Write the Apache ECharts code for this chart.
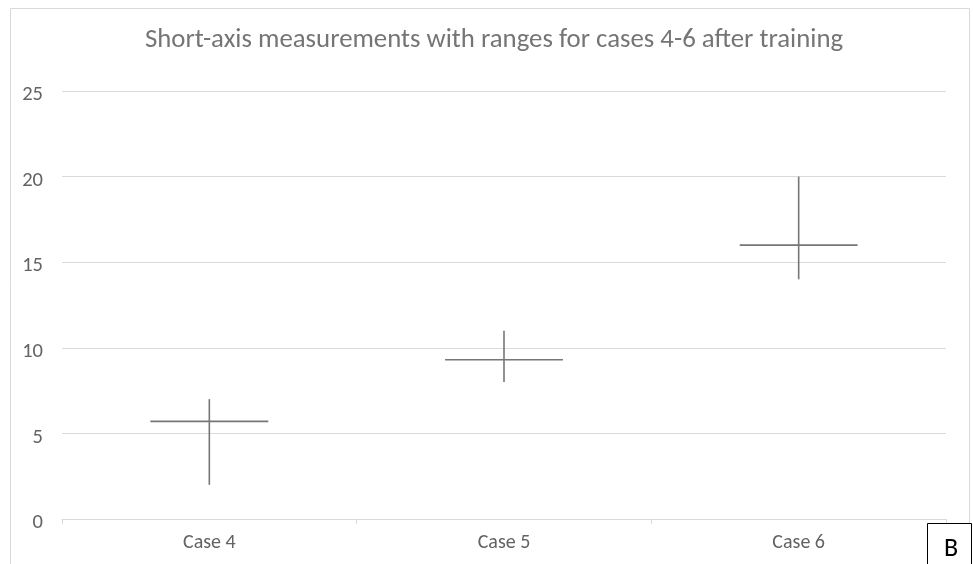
<!DOCTYPE html>
<html>
<head>
<meta charset="utf-8">
<script src="https://cdn.jsdelivr.net/npm/echarts@6/dist/echarts.min.js"></script>
<style>html,body{margin:0;padding:0;background:#fff}#c{width:973px;height:564px}</style>
</head>
<body>
<div id="c"></div>
<script>
const categories = ['Case 4', 'Case 5', 'Case 6'];
const highs = [7, 11, 20];
const lows = [2, 8, 14];
const means = [5.7, 9.3, 16];
const yTicks = [0, 5, 10, 15, 20, 25];

const FONT = "Carlito, 'Liberation Sans Narrow', 'Open Sans', sans-serif";
const data = categories.map((c, i) => [i, lows[i], highs[i], means[i]]);

const chart = echarts.init(document.getElementById('c'));
chart.setOption({
  animation: false,
  title: {
    text: 'Short-axis measurements with ranges for cases 4-6 after training',
    left: 489, top: 22, textAlign: 'center',
    textStyle: { fontFamily: FONT, fontSize: 26.8, fontWeight: 'normal', color: '#757575' }
  },
  grid: { left: 62, right: 27, top: 91, bottom: 45 },
  xAxis: {
    type: 'category', data: categories, boundaryGap: true,
    axisLine: { lineStyle: { color: '#d9d9d9', width: 1 } },
    axisTick: { show: true, length: 5, lineStyle: { color: '#d9d9d9' } },
    axisLabel: { fontFamily: FONT, fontSize: 20, color: '#636363', margin: 14 }
  },
  yAxis: {
    type: 'value', min: 0, max: 25, interval: 5,
    axisLine: { show: false }, axisTick: { show: false },
    splitLine: { lineStyle: { color: '#d9d9d9', width: 1 } },
    axisLabel: { fontFamily: FONT, fontSize: 20.5, color: '#636363', margin: 19,
      verticalAlign: 'top', lineHeight: 8,
      formatter: v => yTicks.includes(v) ? String(v) : '' }
  },
  series: [{
    type: 'custom',
    data: data,
    encode: { x: 0, y: [1, 2, 3] },
    renderItem: function (params, api) {
      const x = api.value(0);
      const lo = api.coord([x, api.value(1)]);
      const hi = api.coord([x, api.value(2)]);
      const mid = api.coord([x, api.value(3)]);
      const half = api.size([1, 0])[0] * 0.2;
      const style = { stroke: '#767676', lineWidth: 1.6 };
      return {
        type: 'group',
        children: [
          { type: 'line', shape: { x1: lo[0], y1: lo[1], x2: hi[0], y2: hi[1] }, style: style },
          { type: 'line', shape: { x1: mid[0] - half, y1: mid[1], x2: mid[0] + half, y2: mid[1] }, style: style }
        ]
      };
    }
  }],
  graphic: [
    { type: 'rect', shape: { x: 10.5, y: 8.5, width: 959, height: 600 },
      style: { fill: 'none', stroke: '#d9d9d9', lineWidth: 1 }, z: -1 },
    { type: 'rect', shape: { x: 927.5, y: 523.5, width: 44, height: 60 },
      style: { fill: '#fff', stroke: '#000', lineWidth: 1 }, z: 10 },
    { type: 'text', x: 951, y: 549, z: 11,
      style: { text: 'B', fontFamily: FONT, fontSize: 26, fill: '#000', textAlign: 'center', textVerticalAlign: 'middle' } }
  ]
});
</script>
</body>
</html>
